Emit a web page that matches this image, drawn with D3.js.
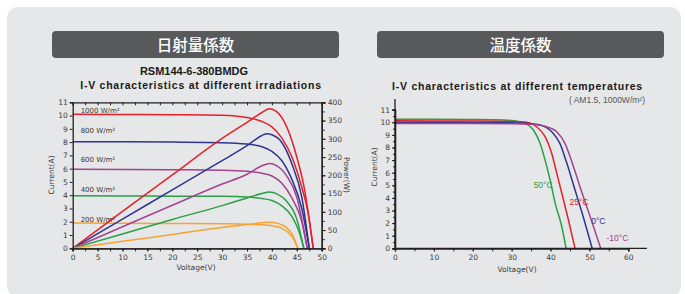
<!DOCTYPE html>
<html lang="en">
<head>
<meta charset="utf-8">
<title>RSM144-6-380BMDG I-V</title>
<script src="https://d3js.org/d3.v7.min.js"></script>
<style>
  body { margin: 0; background: #ffffff; }
  svg { display: block; font-family: "Liberation Sans", Arial, sans-serif; }
  .tick-label { font-family: "DejaVu Sans", sans-serif; font-size: 7.5px; fill: #3a3a3a; }
  .axis-title { font-family: "DejaVu Sans", sans-serif; font-size: 7.5px; fill: #3a3a3a; }
  .curve { fill: none; stroke-width: 1.5; }
</style>
</head>
<body>
<div id="chart"></div>
<script>
// ---- data: irradiation chart (left) ----
var irradLabels = ["1000 W/m²", "800 W/m²", "600 W/m²", "400 W/m²", "200 W/m²"];
var irradColors = ["#e62129", "#2e3591", "#a4438f", "#2a9f47", "#f7a233"];
var irradLabelAt = [10.35, 8.85, 6.7, 4.4, 2.2];

// current (A), [voltage, current]
var iv1000 = [[0,10.1],[10,10.08],[20,10.06],[30,10.02],[35,9.85],[38,9.55],[40,9.15],[42,8.3],[44,6.9],[46,4.6],[47.2,2.8],[48.3,0]];
var iv800  = [[0,8.03],[10,8.02],[20,8.0],[30,7.96],[35,7.85],[38,7.65],[40,7.3],[42,6.6],[44,5.2],[46,3.0],[47.5,0]];
var iv600  = [[0,5.95],[10,5.94],[20,5.92],[30,5.88],[35,5.8],[38,5.65],[40,5.45],[42,4.9],[44,3.8],[46,2.0],[47.1,0]];
var iv400  = [[0,3.95],[10,3.94],[20,3.93],[30,3.92],[35,3.87],[38,3.75],[40,3.6],[42,3.2],[44,2.4],[45.5,1.2],[46.4,0]];
var iv200  = [[0,1.9],[10,1.89],[20,1.87],[30,1.85],[35,1.82],[38,1.77],[40,1.7],[42,1.5],[43.5,1.1],[44.5,0.6],[45.2,0]];

// power (W), [voltage, power]
var pv1000 = [[0,0],[10,101],[20,201],[30,301],[35,345],[38,372],[39.5,382],[41,374],[43,332],[45,250],[46.5,165],[48.3,0]];
var pv800  = [[0,0],[10,80],[20,160],[30,240],[35,281],[38,309],[39,314],[40,311],[42,290],[44,232],[46,140],[47.5,0]];
var pv600  = [[0,0],[10,59],[20,118],[30,176],[35,203],[38,226],[39.5,232],[41,226],[43,198],[45,140],[47.1,0]];
var pv400  = [[0,0],[10,39],[20,79],[30,117],[35,138],[38,150],[39.5,154],[41,149],[43,128],[45,80],[46.4,0]];
var pv200  = [[0,0],[10,19],[20,38],[30,57],[35,65],[38,70],[39.5,71.5],[41,69],[43,56],[44.3,32],[45.2,0]];

var ivSeries = [iv1000, iv800, iv600, iv400, iv200];
var pvSeries = [pv1000, pv800, pv600, pv400, pv200];

// ---- data: temperature chart (right) ----
var tempLabels = ["50°C", "25°C", "0°C", "-10°C"];
var tempColors = ["#2a9f47", "#e62129", "#2e3591", "#a4438f"];
var t50  = [[0,10.25],[10,10.24],[20,10.22],[28,10.18],[31,10.1],[33.4,9.92],[35.6,9.39],[37.3,8.33],[38.6,7.0],[39.9,5.42],[41.2,3.57],[42.9,1.71],[44,0]];
var t25  = [[0,10.12],[10,10.11],[20,10.1],[30,10.07],[33.9,10.0],[36.4,9.65],[38.6,8.86],[40.3,7.54],[41.6,5.95],[42.9,4.37],[44.6,2.25],[46.3,0]];
var t0   = [[0,10.0],[10,10.0],[20,9.99],[30,9.97],[34,9.92],[37.3,9.79],[40.3,9.25],[42.4,8.33],[44.2,6.75],[46.3,4.63],[48.4,2.51],[50.7,0]];
var tm10 = [[0,9.9],[10,9.9],[20,9.9],[30,9.89],[35,9.85],[39,9.65],[41.6,9.25],[43.7,8.33],[45.9,6.48],[48,4.49],[50.2,2.51],[52.9,0]];
var tempSeries = [t50, t25, t0, tm10];
// label anchor points [voltage, current]
var tempLabelAt = [[38.1,4.8],[47.3,3.45],[52.3,1.95],[57.2,0.6]];

var currentTicks = d3.range(0, 12);
var powerTicks = d3.range(0, 401, 50);
var voltTicksLeft = d3.range(0, 51, 5);
var voltTicksRight = d3.range(0, 61, 10);

var w = 685, h = 294;
var svg = d3.select("#chart").append("svg").attr("width", w).attr("height", h);

// background panel
svg.append("rect").attr("x", 7).attr("y", 7).attr("width", 674).attr("height", 290)
  .attr("rx", 11).attr("fill", "#e6e7e8");

// headers
var headers = [{x: 52, w: 287, t: "日射量係数"}, {x: 377, w: 287, t: "温度係数"}];
headers.forEach(function(d) {
  svg.append("rect").attr("x", d.x).attr("y", 31).attr("width", d.w).attr("height", 27)
    .attr("rx", 4).attr("fill", "#58595b");
  svg.append("text").attr("x", d.x + d.w / 2).attr("y", 50.5).attr("text-anchor", "middle")
    .attr("fill", "#ffffff").style("font-family", "'Noto Sans CJK JP', sans-serif")
    .style("font-weight", "500").style("font-size", "15.5px").text(d.t);
});

// titles
svg.append("text").attr("x", 194).attr("y", 75).attr("text-anchor", "middle")
  .style("font-weight", "bold").style("font-size", "11px").attr("fill", "#1a1a1a").text("RSM144-6-380BMDG");
svg.append("text").attr("x", 201).attr("y", 89).attr("text-anchor", "middle")
  .style("font-weight", "bold").style("font-size", "10.5px").style("letter-spacing", "0.75px")
  .attr("fill", "#1a1a1a").text("I-V characteristics at different irradiations");
svg.append("text").attr("x", 517.5).attr("y", 90).attr("text-anchor", "middle")
  .style("font-weight", "bold").style("font-size", "10.5px").style("letter-spacing", "0.75px")
  .attr("fill", "#1a1a1a").text("I-V characteristics at different temperatures");
svg.append("text").attr("x", 645).attr("y", 103).attr("text-anchor", "end")
  .style("font-size", "8.5px").attr("fill", "#555").text("( AM1.5,  1000W/m²)");

// ================= left chart =================
var x1 = d3.scaleLinear().domain([0, 50]).range([72.7, 321.7]);
var yI = d3.scaleLinear().domain([0, 11]).range([248.3, 102.3]);
var yP = d3.scaleLinear().domain([0, 400]).range([248.3, 102.3]);

var g1 = svg.append("g");

// curves
var lineI = d3.line().x(function(d) { return x1(d[0]); }).y(function(d) { return yI(d[1]); }).curve(d3.curveMonotoneX);
var lineP = d3.line().x(function(d) { return x1(d[0]); }).y(function(d) { return yP(d[1]); }).curve(d3.curveMonotoneX);
g1.selectAll("path.iv").data(ivSeries).enter().append("path").attr("class", "curve iv")
  .attr("stroke", function(d, i) { return irradColors[i]; }).attr("d", lineI);
g1.selectAll("path.pv").data(pvSeries).enter().append("path").attr("class", "curve pv")
  .attr("stroke", function(d, i) { return irradColors[i]; }).attr("d", lineP);

// irradiance labels
g1.selectAll("text.irr").data(irradLabels).enter().append("text").attr("class", "tick-label irr")
  .attr("x", x1(1.6)).attr("y", function(d, i) { return yI(irradLabelAt[i]) + 2.5; })
  .style("font-size", "7px").text(function(d) { return d; });

// axes (frame)
var axisColor = "#231f20";
var minorV = d3.range(0, 50.1, 2.5);
g1.append("g").attr("transform", "translate(0,248.3)")
  .call(d3.axisBottom(x1).tickValues(minorV).tickSize(3).tickFormat(""));
g1.append("g").attr("transform", "translate(0,248.3)")
  .call(d3.axisBottom(x1).tickValues(voltTicksLeft).tickSize(3).tickPadding(3));
g1.append("g").attr("transform", "translate(0,102.3)")
  .call(d3.axisBottom(x1).tickValues(minorV).tickSize(3).tickFormat(""));
g1.append("g").attr("transform", "translate(72.7,0)")
  .call(d3.axisLeft(yI).tickValues(currentTicks).tickSize(3).tickPadding(2));
g1.append("g").attr("transform", "translate(321.7,0)")
  .call(d3.axisRight(yP).tickValues(d3.range(0, 401, 25)).tickSize(3).tickFormat(""));
g1.append("g").attr("transform", "translate(321.7,0)")
  .call(d3.axisRight(yP).tickValues(powerTicks).tickSize(4).tickPadding(2));

g1.append("text").attr("class", "axis-title").attr("x", 196).attr("y", 270).attr("text-anchor", "middle").text("Voltage(V)");
g1.append("text").attr("class", "axis-title").attr("transform", "translate(54,175) rotate(-90)").attr("text-anchor", "middle").text("Current(A)");
g1.append("text").attr("class", "axis-title").attr("transform", "translate(344,175) rotate(90)").attr("text-anchor", "middle").text("Power(W)");

// ================= right chart =================
var x2 = d3.scaleLinear().domain([0, 60]).range([395, 628.3]);
var y2 = d3.scaleLinear().domain([0, 11]).range([248.3, 109.7]);
var g2 = svg.append("g");

var lineT = d3.line().x(function(d) { return x2(d[0]); }).y(function(d) { return y2(d[1]); }).curve(d3.curveMonotoneX);
g2.selectAll("path.temp").data(tempSeries).enter().append("path").attr("class", "curve temp")
  .attr("stroke", function(d, i) { return tempColors[i]; })
  .attr("stroke-width", function(d, i) { return i === 0 ? 1.8 : 1.2; })
  .attr("d", lineT);

g2.selectAll("text.tl").data(tempLabels).enter().append("text").attr("class", "tl")
  .attr("x", function(d, i) { return x2(tempLabelAt[i][0]); })
  .attr("y", function(d, i) { return y2(tempLabelAt[i][1]); })
  .attr("text-anchor", "middle").style("font-size", "8.5px")
  .attr("fill", function(d, i) { return tempColors[i]; }).text(function(d) { return d; });

g2.append("g").attr("transform", "translate(0,248.3)")
  .call(d3.axisBottom(x2).tickValues(d3.range(0, 61, 5)).tickSize(3).tickFormat(""));
g2.append("g").attr("transform", "translate(0,248.3)")
  .call(d3.axisBottom(x2).tickValues(voltTicksRight).tickSize(3).tickPadding(3));
g2.append("line").attr("x1", 395).attr("x2", 647).attr("y1", 248.3).attr("y2", 248.3).attr("stroke", axisColor).attr("stroke-width", 1.3);
g2.append("g").attr("transform", "translate(395,0)")
  .call(d3.axisLeft(y2).tickValues(d3.range(0, 11.1, 0.5)).tickSize(2).tickFormat(""));
g2.append("g").attr("transform", "translate(395,0)")
  .call(d3.axisLeft(y2).tickValues(currentTicks).tickSize(3).tickPadding(2));
g2.append("line").attr("x1", 395).attr("x2", 395).attr("y1", 99).attr("y2", 248.3).attr("stroke", axisColor).attr("stroke-width", 1.3);

g2.append("text").attr("class", "axis-title").attr("x", 517).attr("y", 272).attr("text-anchor", "middle").text("Voltage(V)");
g2.append("text").attr("class", "axis-title").attr("transform", "translate(377,167) rotate(-90)").attr("text-anchor", "middle").text("Current(A)");

// axis styling
svg.selectAll(".domain").attr("stroke", axisColor).attr("stroke-width", 1.3);
svg.selectAll(".tick line").attr("stroke", axisColor).attr("stroke-width", 1);
svg.selectAll(".tick text").attr("class", "tick-label").attr("fill", "#3a3a3a").style("font-size", "7.5px");
</script>
</body>
</html>
